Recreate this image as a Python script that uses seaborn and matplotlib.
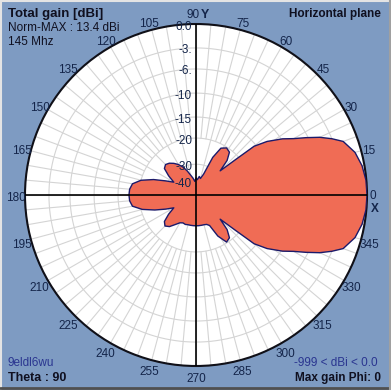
import numpy as np
import matplotlib
matplotlib.use("Agg")
import matplotlib.pyplot as plt
from matplotlib.lines import Line2D
import seaborn as sns

# Horizontal-plane gain pattern, normalised to max (dB)
phi_deg = [0, 5, 10, 15, 20, 22.5, 25, 27.5, 30, 33, 37, 40, 42, 45, 48, 52, 57, 62, 66, 70,
           75, 80, 85, 90, 95, 100, 105, 110, 115, 120, 125, 130, 135, 140, 145, 150,
           155, 160, 165, 170, 175, 180, 185, 190, 195, 200, 205, 210, 215, 220, 225,
           230, 235, 240, 245, 250, 255, 260, 265, 270, 275, 280, 285, 290, 294, 298,
           303, 308, 312, 315, 318, 320, 323, 327, 330, 332.5, 335, 337.5, 340, 345, 350, 355]
gain_db = [0.0, -0.05, -0.3, -0.8, -1.8, -3.0, -4.5, -6.3, -8.2, -9.8, -12.7, -15.5, -22.0,
           -28.7, -24.0, -21.0, -20.3, -21.5, -26.0, -35.0, -38.0, -37.0, -39.0, -38.0,
           -40.0, -38.0, -36.0, -33.0, -30.0, -28.3, -27.0, -25.9, -25.3, -26.0, -29.0,
           -33.0, -29.0, -24.5, -20.0, -18.2, -17.7, -17.6, -17.7, -18.2, -20.5, -25.0,
           -29.0, -33.0, -29.0, -26.0, -25.0, -26.0, -28.0, -29.5, -30.0, -29.8, -30.0,
           -30.0, -30.0, -30.0, -30.0, -30.0, -30.0, -29.8, -29.0, -24.0, -20.3, -21.0,
           -24.0, -28.7, -22.0, -15.5, -12.7, -9.8, -8.2, -6.3, -4.5, -3.0, -1.8, -0.8,
           -0.3, -0.05]

ring_db = [0, -3, -6, -10, -15, -20, -30, -40]
ring_labels = ["0.0", "-3.", "-6.", "-10", "-15", "-20", "-30", "-40"]
angle_ticks = list(range(0, 360, 15))

# radial scale of the plot (dB -> fraction of radius)
scale_db = [-50, -40, -30, -20, -15, -10, -6, -3, 0]
scale_frac = [0.0, 0.08, 0.18, 0.333, 0.456, 0.596, 0.737, 0.86, 1.0]


def fwd(v):
    return np.interp(v, scale_db, scale_frac)


def inv(f):
    return np.interp(f, scale_frac, scale_db)


BG = "#7e9bc2"
FILL = "#f06c55"
NAVY = "#1c1a6a"
LABEL = "#14254a"
GRID = "#d4d4d4"

sns.set_theme(style="white")
plt.rcParams['font.family'] = ['Liberation Sans', 'DejaVu Sans']

fig = plt.figure(figsize=(3.91, 3.90), dpi=100, facecolor=BG)
ax = fig.add_axes([25 / 391, 24 / 390, 342 / 391, 342 / 390], projection='polar')
ax.set_yscale('function', functions=(fwd, inv))
ax.set_ylim(-50, 0)
ax.set_facecolor('white')
ax.grid(False)
ax.set_xticks([])
ax.set_yticks([])
ax.spines['polar'].set_color('#101018')
ax.spines['polar'].set_linewidth(1.5)

# grid rings and radial lines
th_full = np.linspace(0, 2 * np.pi, 361)
for v in ring_db[1:]:
    ax.plot(th_full, np.full_like(th_full, v), color=GRID, lw=0.8, zorder=1)
for a in range(0, 360, 5):
    inner = -40 if a % 15 == 0 else -20
    ax.plot([np.deg2rad(a)] * 2, [inner, 0], color=GRID, lw=0.8, zorder=1)

# pattern
th = np.deg2rad(phi_deg + [phi_deg[0]])
g = np.array(gain_db + [gain_db[0]])
ax.fill(th, g, color=FILL, lw=0, zorder=3)
sns.lineplot(x=th, y=g, sort=False, estimator=None, color=NAVY, lw=1.0, ax=ax, zorder=4)
ax.set_xlabel("")
ax.set_ylabel("")

# axes cross
for a in [0, 90, 180, 270]:
    ax.plot([np.deg2rad(a)] * 2, [-50, 0], color='black', lw=1.2, zorder=5)

# radial labels
for v, lab in zip(ring_db, ring_labels):
    ax.annotate(lab, xy=(np.pi / 2, v), xytext=(-4, -2.5), textcoords='offset pixels',
                ha='right', va='center', fontsize=8.5, color=LABEL, zorder=6)

# angle labels
for a in angle_ticks:
    t = np.deg2rad(a)
    if a == 0:
        off = (6, -1)
    elif a == 90:
        off = (-3, 8.5)
    else:
        off = ((9.5 - 1.5 * max(np.cos(t), 0)) * np.cos(t), 9.5 * np.sin(t) - 3)
    ax.annotate(str(a), xy=(t, 0), xytext=off, textcoords='offset pixels',
                ha='center', va='center', fontsize=8.5, color=LABEL, annotation_clip=False)
ax.annotate("Y", xy=(np.pi / 2, 0), xytext=(9, 8.5), textcoords='offset pixels',
            ha='center', va='center', fontsize=9, fontweight='bold', color=LABEL,
            annotation_clip=False)
ax.annotate("X", xy=(0, 0), xytext=(7.5, -14), textcoords='offset pixels',
            ha='center', va='center', fontsize=8.5, fontweight='bold', color=LABEL,
            annotation_clip=False)

# corner texts
fig.text(8 / 391, 1 - 14 / 390, "Total gain [dBi]", fontsize=9.5, fontweight='bold',
         color='#101020', va='center', ha='left')
fig.text(8 / 391, 1 - 28 / 390, "Norm-MAX : 13.4 dBi", fontsize=8.5, color='#101020',
         va='center', ha='left')
fig.text(8 / 391, 1 - 42 / 390, "145 Mhz", fontsize=8.5, color='#101020', va='center', ha='left')
fig.text(381 / 391, 1 - 14 / 390, "Horizontal plane", fontsize=8.5, fontweight='bold',
         color='#101020', va='center', ha='right')
fig.text(8 / 391, 1 - 363 / 390, "9eldl6wu", fontsize=8.5, color='#2a3590', va='center', ha='left')
fig.text(8 / 391, 1 - 378 / 390, "Theta : 90", fontsize=9, fontweight='bold',
         color='#101020', va='center', ha='left')
fig.text(378 / 391, 1 - 363 / 390, "-999 < dBi < 0.0", fontsize=8.5, color='#2a3590',
         va='center', ha='right')
fig.text(381 / 391, 1 - 378 / 390, "Max gain Phi: 0", fontsize=8.5, fontweight='bold',
         color='#101020', va='center', ha='right')

# window frame
fig.add_artist(Line2D([0, 1], [0.997, 0.997], color='#e4e4e4', lw=1.5, transform=fig.transFigure))
fig.add_artist(Line2D([0.002, 0.002], [0, 1], color='#e4e4e4', lw=1.5, transform=fig.transFigure))
fig.add_artist(Line2D([0, 1], [0.004, 0.004], color='#505050', lw=2, transform=fig.transFigure))
fig.add_artist(Line2D([0.997, 0.997], [0, 1], color='#a0a0a0', lw=1.5, transform=fig.transFigure))

fig.savefig("out.png", dpi=100, facecolor=BG)
